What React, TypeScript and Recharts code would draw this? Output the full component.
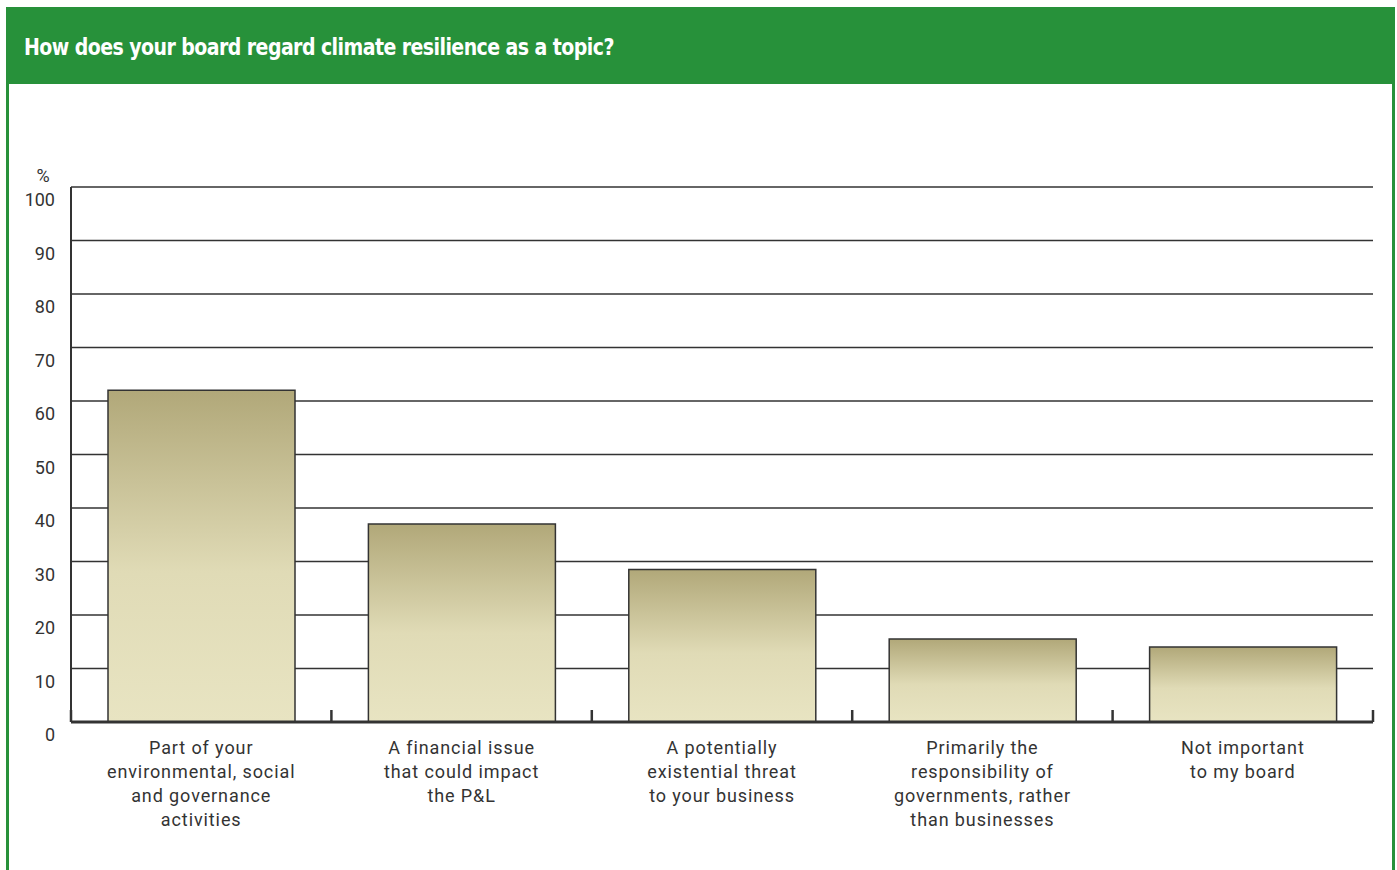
import React from "react";
import { BarChart, Bar, XAxis, YAxis, CartesianGrid } from "recharts";

const categories = [
  ["Part of your", "environmental, social", "and governance", "activities"],
  ["A financial issue", "that could impact", "the P&L"],
  ["A potentially", "existential threat", "to your business"],
  ["Primarily the", "responsibility of", "governments, rather", "than businesses"],
  ["Not important", "to my board"],
];
const shares = [62, 37, 28.5, 15.5, 14];
const yTicks = [0, 10, 20, 30, 40, 50, 60, 70, 80, 90, 100];

const data = categories.map((lines, i) => ({ key: i, value: shares[i] }));

const GREEN = "#27913a";
const INK = "#333333";
const LABEL_FONT = "Roboto, 'Noto Sans', sans-serif";

function YTick({ x, y, payload }: any) {
  return (
    <text x={x - 8} y={y + 19} textAnchor="end" fill={INK} fontSize={18} fontFamily={LABEL_FONT}>
      {payload.value}
    </text>
  );
}

// category label plus the small upward tick marks at the band edges
function XTick({ x, y, payload, index, width, visibleTicksCount }: any) {
  const lines = categories[payload.value] || [];
  const band = width && visibleTicksCount ? width / visibleTicksCount : 260.4;
  const left = x - band / 2;
  const right = x + band / 2;
  return (
    <g>
      <line x1={left} x2={left} y1={y - 12} y2={y} stroke={INK} strokeWidth={2.5} />
      {index === visibleTicksCount - 1 && (
        <line x1={right} x2={right} y1={y - 12} y2={y} stroke={INK} strokeWidth={2.5} />
      )}
      <text x={x} y={y} textAnchor="middle" fill={INK} fontSize={18} fontFamily={LABEL_FONT} letterSpacing={0.9}>
        {lines.map((l: string, i: number) => (
          <tspan key={i} x={x} y={y + 32 + i * 24}>
            {l}
          </tspan>
        ))}
      </text>
    </g>
  );
}

export default function App() {
  return (
    <div style={{ position: "absolute", left: 0, top: 0, width: 1397, height: 870, background: "#fff", overflow: "hidden" }}>
      <div
        style={{
          position: "absolute",
          left: 6,
          top: 7,
          width: 1383,
          height: 900,
          borderLeft: `3px solid ${GREEN}`,
          borderRight: `3px solid ${GREEN}`,
        }}
      />
      <div
        style={{
          position: "absolute",
          left: 6,
          top: 7,
          width: 1389,
          height: 77,
          background: GREEN,
        }}
      >
        <div
          style={{
            position: "absolute",
            left: 18,
            top: 26,
            whiteSpace: "nowrap",
            color: "#fff",
            fontFamily: "'DejaVu Sans Condensed', 'Liberation Sans Narrow', sans-serif",
            fontWeight: 700,
            fontSize: 23,
            letterSpacing: -0.6,
            lineHeight: "28px",
            transform: "scaleX(0.915)",
            transformOrigin: "left center",
          }}
        >
          How does your board regard climate resilience as a topic?
        </div>
      </div>
      <div style={{ position: "absolute", left: 0, top: 0 }}>
        <BarChart
          width={1397}
          height={870}
          data={data}
          margin={{ top: 187, right: 24, bottom: 0, left: 11 }}
          barSize={187}
        >
          <defs>
            <linearGradient id="barFill" x1="0" y1="0" x2="0" y2="1">
              <stop offset="0%" stopColor="#b1a879" />
              <stop offset="55%" stopColor="#e0dbb6" />
              <stop offset="100%" stopColor="#e8e4c2" />
            </linearGradient>
          </defs>
          <CartesianGrid vertical={false} stroke={INK} strokeWidth={1.4} />
          <XAxis
            dataKey="key"
            height={148}
            axisLine={{ stroke: INK, strokeWidth: 3 }}
            tickLine={false}
            tickSize={0}
            tickMargin={0}
            tick={<XTick />}
            interval={0}
          />
          <YAxis
            width={60}
            domain={[0, 100]}
            ticks={yTicks}
            axisLine={{ stroke: INK, strokeWidth: 2 }}
            tickLine={false}
            tick={<YTick />}
            interval={0}
          />
          <Bar
            dataKey="value"
            fill="url(#barFill)"
            stroke={INK}
            strokeWidth={1.5}
            isAnimationActive={false}
          />
          <text x={43} y={182} textAnchor="middle" fill={INK} fontSize={18} fontFamily={LABEL_FONT}>
            %
          </text>
        </BarChart>
      </div>
    </div>
  );
}
